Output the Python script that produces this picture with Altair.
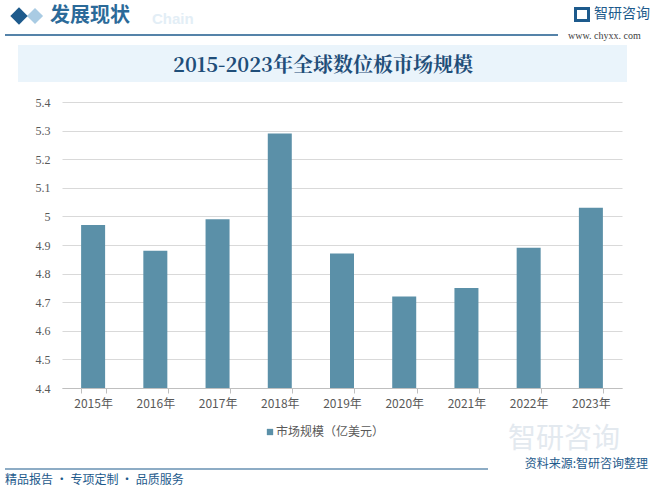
import altair as alt
import pandas as pd

years = ["2015年", "2016年", "2017年", "2018年", "2019年", "2020年", "2021年", "2022年", "2023年"]
values = [4.97, 4.88, 4.99, 5.29, 4.87, 4.72, 4.75, 4.89, 5.03]
y_ticks = [4.4, 4.5, 4.6, 4.7, 4.8, 4.9, 5.0, 5.1, 5.2, 5.3, 5.4]
title_text = "2015-2023年全球数位板市场规模"
legend_label = "市场规模（亿美元）"

df = pd.DataFrame({"year": years, "value": values})

L, T = 62, 102
W, H = 560, 286
BAR = "#5B90A8"
NAVY = "#1D5A8C"

def ax(v):
    return alt.value(v - L)

def ay(v):
    return alt.value(v - T)

base = alt.Chart(df)

bars = base.mark_bar(color=BAR, width=24, clip=True).encode(
    x=alt.X("year:N", sort=years, title=None,
            scale=alt.Scale(paddingInner=0.6, paddingOuter=0.3),
            axis=alt.Axis(labelAngle=0, labelColor="#595959", labelFontSize=12,
                          labelFont="Noto Sans CJK SC", domainColor="#bfbfbf",
                          tickColor="#bfbfbf", tickBand="extent", tickSize=5,
                          labelPadding=5, grid=False)),
    y=alt.Y("value:Q", title=None,
            scale=alt.Scale(domain=[4.4, 5.4], zero=False, nice=False),
            axis=alt.Axis(values=y_ticks, labelColor="#595959", labelFontSize=12,
                          labelFont="Liberation Serif", domain=False, ticks=False,
                          gridColor="#d9d9d9", labelPadding=12,
                          labelExpr="datum.value == 5 ? '5' : format(datum.value, '.1f')")),
)

one = pd.DataFrame({"k": [0]})
ob = alt.Chart(one)

band = ob.mark_rect(color="#EAF4FB").encode(x=ax(18), x2=ax(627), y=ay(45), y2=ay(82))
title = ob.mark_text(text=title_text, font="Noto Serif CJK SC, Noto Sans CJK SC", fontSize=20,
                     fontWeight="bold", color="#1F4E79").encode(x=ax(323), y=ay(66))

top_rule = ob.mark_rule(color=NAVY, strokeWidth=1.5).encode(x=ax(5), x2=ax(558), y=ay(35))
dia1 = ob.mark_point(shape="diamond", filled=True, color="#1D5A8C", size=300, opacity=1).encode(x=ax(19), y=ay(16))
dia2 = ob.mark_point(shape="diamond", filled=True, color="#A9CBE3", size=260, opacity=1).encode(x=ax(35), y=ay(16))
head_bg = ob.mark_text(text="Chain", font="Liberation Sans", fontSize=15, fontWeight="bold",
                       color="#E3EEF6", align="left").encode(x=ax(152), y=ay(19))
head = ob.mark_text(text="发展现状", font="Noto Sans CJK SC", fontSize=20, fontWeight="bold",
                    color="#2B6A99", align="left").encode(x=ax(50), y=ay(16))
logo_icon = ob.mark_rect(color="#1D5A8C").encode(x=ax(574), x2=ax(590), y=ay(7), y2=ay(22))
logo_icon2 = ob.mark_rect(color="white").encode(x=ax(577), x2=ax(587), y=ay(10), y2=ay(19))
logo = ob.mark_text(text="智研咨询", font="Noto Sans CJK SC", fontSize=14,
                    color="#1D5A8C", align="left").encode(x=ax(594), y=ay(14))
url = ob.mark_text(text="www. chyxx. com", font="Liberation Serif", fontSize=10,
                   color="#404040", align="left").encode(x=ax(568), y=ay(36))

leg_sq = ob.mark_square(color=BAR, size=40, opacity=1).encode(x=ax(270), y=ay(432))
leg_tx = ob.mark_text(text=legend_label, font="Noto Sans CJK SC", fontSize=12, color="#595959",
                      align="left").encode(x=ax(276), y=ay(432))

wm = ob.mark_text(text="智研咨询", font="Noto Sans CJK SC", fontSize=28, color="#E3E9EF",
                  align="left").encode(x=ax(508), y=ay(440))
foot_rule = ob.mark_rule(color=NAVY, strokeWidth=1.2).encode(x=ax(5), x2=ax(488), y=ay(469))
source = ob.mark_text(text="资料来源:智研咨询整理", font="Noto Sans CJK SC", fontSize=12,
                      color="#1D5A8C", align="right").encode(x=ax(648), y=ay(464))
foot = ob.mark_text(text="精品报告 · 专项定制 · 品质服务", font="Noto Sans CJK SC", fontSize=12,
                    color="#1D5A8C", align="left").encode(x=ax(5), y=ay(480))

chart = alt.layer(
    band, bars, title, top_rule, dia2, dia1, head_bg, head, logo_icon, logo_icon2, logo, url,
    leg_sq, leg_tx, wm, foot_rule, source, foot
).properties(
    width=W, height=H,
    autosize=alt.AutoSizeParams(type="none"),
    padding={"left": L, "top": T, "right": 652 - L - W, "bottom": 491 - T - H},
    background="white",
).configure_view(stroke=None)

chart.save("out.html", embed_options={"renderer": "svg", "actions": False})
